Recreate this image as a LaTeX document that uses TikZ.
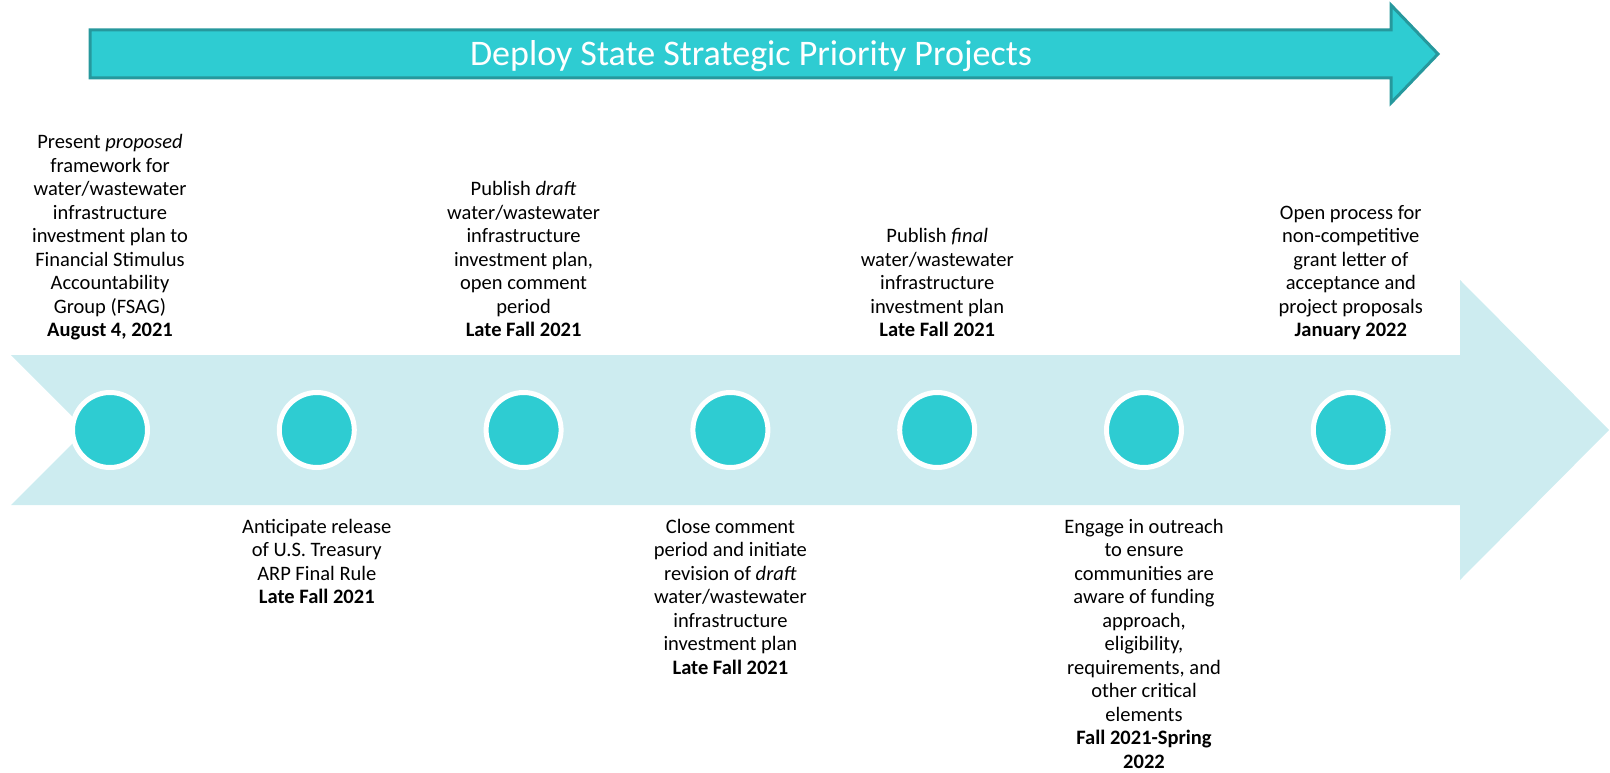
\documentclass[tikz,border=0pt]{standalone}
\usepackage{fontspec}
\setmainfont{Carlito}
\definecolor{tealfill}{RGB}{46,204,210}
\definecolor{tealedge}{RGB}{38,152,157}
\definecolor{lightband}{RGB}{205,236,240}
\begin{document}
\begin{tikzpicture}[x=1pt,y=-1pt,
  toptext/.style={anchor=south,align=center,inner sep=0pt,font=\fontsize{20.5}{23.5}\selectfont},
  bottext/.style={anchor=north,align=center,inner sep=0pt,font=\fontsize{20.5}{23.5}\selectfont},
  dot/.style={circle,fill=tealfill,draw=white,line width=5pt,minimum size=75pt,inner sep=0pt}]
\useasboundingbox (0,0) rectangle (1610,773);
% top arrow
\draw[fill=tealfill,draw=tealedge,line width=3pt] (90,30) -- (1391,30) -- (1391,5) -- (1438,54) -- (1391,103) -- (1391,78) -- (90,78) -- cycle;
\node[anchor=base,inner sep=0pt,text=white,font=\fontsize{36}{40}\selectfont] (title) at (751,66) {Deploy State Strategic Priority Projects};
% band arrow
\fill[lightband] (11,355) -- (1460,355) -- (1460,280) -- (1609,430) -- (1460,580) -- (1460,505) -- (11,505) -- (86,430) -- cycle;
% dots
\foreach \i in {1,...,7} {
  \node[dot] (d\i) at ({110+206.8*(\i-1)},430) {};
}
% top texts
\node[toptext] (t1) at (110,344) {Present \textit{proposed}\\framework for\\water/wastewater\\infrastructure\\investment plan to\\Financial Stimulus\\Accountability\\Group (FSAG)\\\textbf{August 4, 2021}\strut};
\node[toptext] (t3) at (523.6,344) {Publish \textit{draft}\\water/wastewater\\infrastructure\\investment plan,\\open comment\\period\\\textbf{Late Fall 2021}\strut};
\node[toptext] (t5) at (937.2,344) {Publish \textit{final}\\water/wastewater\\infrastructure\\investment plan\\\textbf{Late Fall 2021}\strut};
\node[toptext] (t7) at (1350.8,344) {Open process for\\non-competitive\\grant letter of\\acceptance and\\project proposals\\\textbf{January 2022}\strut};
% bottom texts
\node[bottext] (t2) at (316.8,516.5) {\strut Anticipate release\\of U.S. Treasury\\ARP Final Rule\\\textbf{Late Fall 2021}};
\node[bottext] (t4) at (730.4,516.5) {\strut Close comment\\period and initiate\\revision of \textit{draft}\\water/wastewater\\infrastructure\\investment plan\\\textbf{Late Fall 2021}};
\node[bottext] (t6) at (1144,516.5) {\strut Engage in outreach\\to ensure\\communities are\\aware of funding\\approach,\\eligibility,\\requirements, and\\other critical\\elements\\\textbf{Fall 2021-Spring}\\\textbf{2022}};
\end{tikzpicture}
\end{document}
